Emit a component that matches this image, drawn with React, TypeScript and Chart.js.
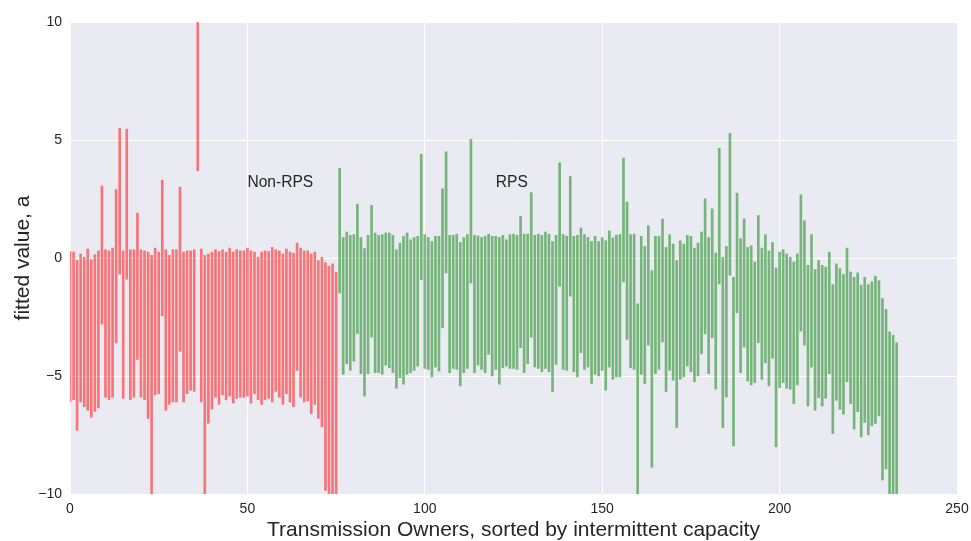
import React, { useEffect, useRef } from "react";
import { Chart, registerables } from "chart.js";

Chart.register(...registerables);

// Non-RPS transmission owners (index 0..75)
const nonRpsStart = 0;
const nonRpsHigh = [
  0.28, 0.25, -0.1, 0.17, 0.03, 0.38, -0.07, 0.14, 0.3, 3.05,
  0.35, 0.3, 0.42, 2.9, 5.5, 0.3, 5.46, 0.35, 0.35, 1.9,
  0.35, 0.3, 0.25, 0.11, 0.42, 0.25, 3.3, 0.35, 0.11, 0.35,
  0.35, 3.0, 0.25, 0.3, 0.3, 0.35, 11, 0.38, 0.11, 0.17,
  0.25, 0.35, 0.28, 0.35, 0.25, 0.42, 0.25, 0.35, 0.3, 0.3,
  0.42, 0.3, 0.25, 0.03, 0.25, 0.3, 0.28, 0.45, 0.35, 0.3,
  0.17, 0.38, 0.25, 0.2, 0.63, 0.42, 0.3, 0.3, 0.17, 0.25,
  -0.11, 0.03, -0.2, -0.35, -0.25, -0.6,
];
const nonRpsLow = [
  -6.1, -6.0, -7.3, -6.1, -6.3, -6.45, -6.75, -6.5, -6.35, -2.8,
  -5.9, -6.0, -5.9, -3.6, -0.68, -5.95, -0.9, -6.0, -5.9, -4.3,
  -5.9, -6.0, -6.8, -11, -5.8, -5.75, -2.45, -6.45, -6.2, -6.1,
  -6.1, -3.95, -6.1, -5.75, -5.6, -5.65, 3.7, -6.1, -11, -7.0,
  -6.4, -5.9, -6.2, -5.8, -6.0, -5.85, -6.15, -5.95, -5.9, -5.9,
  -5.85, -6.15, -5.75, -6.0, -6.2, -6.0, -5.95, -6.1, -5.65, -5.9,
  -6.2, -5.75, -6.1, -6.3, -4.76, -5.9, -6.1, -6.05, -6.6, -6.2,
  -6.8, -7.15, -9.85, -11, -11, -11,
];

// RPS transmission owners (index 76..233)
const rpsStart = 76;
const rpsHigh = [
  3.8, 0.87, 1.1, 0.96, 0.99, 2.28, 0.87, 0.4, 0.96, 2.23,
  1.06, 0.96, 0.99, 1.06, 1.06, 0.96, 0.35, 0.63, 0.92, 1.06,
  0.77, 0.87, 0.92, 4.4, 0.99, 0.87, 0.7, 0.92, 0.92, 2.93,
  4.5, 0.96, 0.96, 1.01, 0.66, 0.87, 0.99, 5.03, 0.96, 0.93,
  0.87, 0.92, 1.01, 0.92, 0.92, 0.87, 0.96, 0.77, 0.99, 1.01,
  0.96, 1.76, 1.01,
  1.01, 2.77, 0.96, 1.01, 0.96, 1.1, 1.01, 0.7, 0.96, 4.04,
  0.99, 0.92, 3.45, 0.92, 0.96, 1.27, 0.99, 0.87, 0.7, 0.92,
  0.7, 0.87, 0.73, 1.15, 0.85, 0.96, 0.99, 4.23, 2.37, 0.99,
  1.01, -1.94,
  0.92, 0.49, 1.37, -0.54, 0.92, 0.92, 1.65, 0.45, 0.99, 0.59,
  -0.11, 0.73, 0.59, 0.96, 0.92, 0.42, 0.63, 1.1, 2.51, 0.87,
  2.08, 0.21, 4.65, 0.03, 0.49, 5.28, -0.82, 2.75, 0.82, 1.66,
  0.45, 0.52, -0.17,
  1.8, 0.42, 0.99, 0.3, 0.66, -0.42, 0.25, 0.35, 0.17, 0.03,
  -0.17, 0.17, 2.68, 1.58, -0.31, 0.99, -0.49, -0.11, -0.31, -0.39,
  0.25, -1.13, -0.25, -0.45, -0.7, 0.42, -0.59, -0.82, -0.63, -1.15,
  -0.82, -1.13,
  -1.01, -0.77, -0.96, -1.72, -2.18, -3.13, -3.27, -3.59,
];
const rpsLow = [
  -1.48, -4.93, -4.48, -4.76, -4.37, -3.2, -4.9, -5.85, -4.9, -3.35,
  -4.86, -4.86, -4.93, -4.54, -4.65, -4.86, -5.52, -5.07, -5.35, -4.93,
  -4.86, -4.76, -4.58, -0.92, -4.68, -4.72, -5.04, -4.62, -4.79, -2.96,
  -0.63, -4.86, -4.68, -4.72, -5.42, -4.86, -4.68, -1.06, -4.86, -4.54,
  -4.72, -4.86, -4.08, -5.0, -4.72, -5.35, -4.65, -4.58, -4.68, -4.68,
  -4.72, -3.8, -4.86,
  -4.48, -3.35, -4.62, -4.68, -4.82, -4.68, -4.82, -5.66, -4.51, -1.2,
  -4.72, -4.76, -1.62, -4.82, -5.04, -4.01, -4.72, -4.62, -5.32, -4.93,
  -5.0, -4.76, -5.6, -4.62, -5.14, -5.04, -5.04, -1.01, -3.45, -4.65,
  -4.72, -10.5,
  -4.93, -5.32, -3.69, -8.87, -4.9, -4.72, -3.56, -5.66, -4.76, -5.18,
  -7.18, -5.14, -5.04, -4.58, -4.82, -5.24, -5.0, -4.06, -3.21, -4.9,
  -3.38, -5.56, -1.1, -7.18, -5.89, -0.73, -7.96, -2.32, -4.86, -3.77,
  -5.21, -5.38, -5.28,
  -3.59, -5.14, -4.44, -5.42, -4.25, -8.0, -5.49, -5.28, -5.52, -5.56,
  -6.17, -5.38, -3.1, -3.69, -6.27, -4.62, -6.45, -5.92, -6.27, -5.94,
  -4.9, -7.44, -6.03, -6.41, -6.62, -5.24, -6.17, -7.25, -6.51, -7.58,
  -6.97, -7.49,
  -7.11, -7.01, -6.69, -9.41, -8.94, -10.5, -10.5, -10.5,
];

const xTicks = [0, 50, 100, 150, 200, 250];
const yTicks = [-10, -5, 0, 5, 10];

const annotations = [
  { text: "Non-RPS", x: 50, y: 3 },
  { text: "RPS", x: 120, y: 3 },
];

const FONT = "'Liberation Sans', Arial, 'DejaVu Sans', sans-serif";
const TEXT = "#262626";

function toPoints(start: number, lows: number[], highs: number[]) {
  return lows.map((lo, i) => ({ x: start + i, y: [lo, highs[i]] }));
}

const bgPlugin = {
  id: "bg",
  beforeDraw(chart: any) {
    const { ctx, chartArea } = chart;
    ctx.save();
    ctx.fillStyle = "#EAEAF2";
    ctx.fillRect(chartArea.left, chartArea.top, chartArea.right - chartArea.left, chartArea.bottom - chartArea.top);
    ctx.restore();
  },
};

const textPlugin = {
  id: "texts",
  afterDatasetsDraw(chart: any) {
    const { ctx, scales } = chart;
    ctx.save();
    ctx.fillStyle = TEXT;
    ctx.font = `15.6px ${FONT}`;
    ctx.textAlign = "left";
    ctx.textBaseline = "alphabetic";
    annotations.forEach((a) => {
      ctx.fillText(a.text, scales.x.getPixelForValue(a.x), scales.y.getPixelForValue(a.y));
    });
    ctx.restore();
  },
};

export default function App() {
  const ref = useRef<HTMLCanvasElement | null>(null);
  useEffect(() => {
    if (!ref.current) return;
    const chart = new Chart(ref.current, {
      type: "bar",
      data: {
        datasets: [
          {
            label: "Non-RPS",
            data: toPoints(nonRpsStart, nonRpsLow, nonRpsHigh) as any,
            backgroundColor: "rgba(255,0,0,0.5)",
            borderWidth: 0,
            barThickness: 2,
            grouped: false,
          } as any,
          {
            label: "RPS",
            data: toPoints(rpsStart, rpsLow, rpsHigh) as any,
            backgroundColor: "rgba(0,128,0,0.5)",
            borderWidth: 0,
            barThickness: 2,
            grouped: false,
          } as any,
        ],
      },
      options: {
        animation: false,
        responsive: false,
        maintainAspectRatio: false,
        layout: { padding: { top: 22, right: 14, left: 0, bottom: 0 } },
        plugins: { legend: { display: false }, tooltip: { enabled: false } },
        scales: {
          x: {
            type: "linear",
            min: 0,
            max: 250,
            offset: false,
            afterBuildTicks: (s: any) => { s.ticks = xTicks.map((v) => ({ value: v })); },
            afterFit: (s: any) => { s.height = 47; s.paddingLeft = 0; s.paddingRight = 0; },
            ticks: { color: TEXT, font: { family: FONT, size: 14 }, padding: 7, maxRotation: 0, callback: (v: any) => String(v) },
            grid: { color: "#FFFFFF", lineWidth: 1, drawTicks: false, offset: false },
            border: { display: false },
            title: { display: true, text: "Transmission Owners, sorted by intermittent capacity", color: TEXT, font: { family: FONT, size: 21, lineHeight: 1 }, padding: { top: 0, bottom: 0 } },
          },
          y: {
            type: "linear",
            min: -10,
            max: 10,
            afterBuildTicks: (s: any) => { s.ticks = yTicks.map((v) => ({ value: v })); },
            afterFit: (s: any) => { s.width = 70; s.paddingTop = 0; s.paddingBottom = 0; },
            ticks: { color: TEXT, font: { family: FONT, size: 14 }, padding: 8, callback: (v: any) => String(v).replace("-", "\u2212") },
            grid: { color: "#FFFFFF", lineWidth: 1, drawTicks: false },
            border: { display: false },
            title: { display: true, text: "fitted value, a", color: TEXT, font: { family: FONT, size: 21, lineHeight: 1 }, padding: { top: 13, bottom: 0 } },
          },
        },
      } as any,
      plugins: [bgPlugin, textPlugin],
    });
    return () => chart.destroy();
  }, []);
  return (
    <div style={{ position: "fixed", left: 0, top: 0, width: 971, height: 541, background: "#fff" }}>
      <canvas ref={ref} width={971} height={541} style={{ display: "block" }} />
    </div>
  );
}
